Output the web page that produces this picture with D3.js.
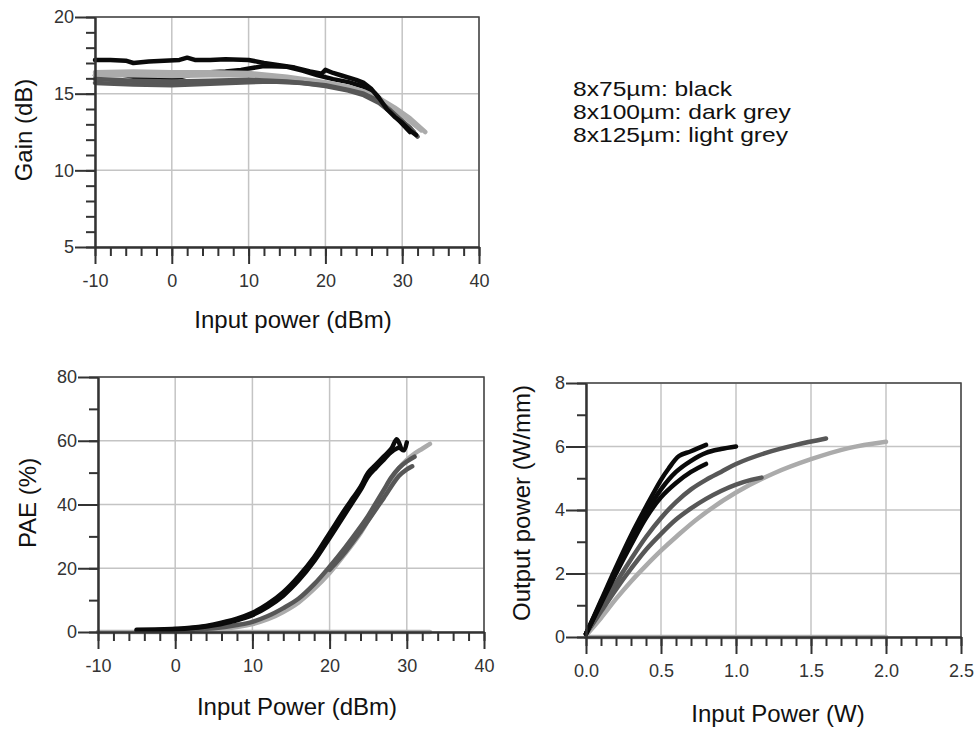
<!DOCTYPE html>
<html>
<head>
<meta charset="utf-8">
<script src="https://cdn.jsdelivr.net/npm/d3@7"></script>
<style>
    body { margin: 0; background: #fff; }
    svg { font-family: Arial, "Liberation Sans", sans-serif; }
    .tick text { font-size: 18px; fill: #333; }
    .grid line { stroke: #c4c4c4; stroke-width: 1.5; }
    .axis path, .axis line { stroke: #333; stroke-width: 2; }
    .frame { fill: none; stroke: #444; stroke-width: 1.5; }
    .title { font-size: 24px; fill: #111; }
    .legend { font-size: 20.5px; fill: #111; }
    .series { fill: none; stroke-width: 4.5; stroke-linejoin: round; stroke-linecap: round; }
</style>
</head>
<body>
<div id="chart"></div>
<script>
// Gain (dB) vs input power (dBm)
const gainBlackA = [[-10,17.2],[-8,17.2],[-6,17.15],[-5,17.0],[-3,17.1],[-1,17.15],[1,17.2],[2,17.35],[3,17.2],[5,17.2],[7,17.25],[10,17.2],[12,17.0],[14,16.85],[16,16.7],[18,16.45],[19.5,16.3],[20,16.55],[21,16.35],[22,16.2],[24,15.9],[25,15.7],[26,15.3],[27,14.7],[28,14.0],[29,13.5],[30,13.1],[31,12.6],[31.8,12.3]];
const gainBlackB = [[-10,16.2],[-7,16.3],[-5,16.1],[-2,16.0],[0,15.95],[3,16.3],[5,16.4],[7,16.45],[9,16.55],[12,16.8],[15,16.75],[17,16.5],[19,16.2],[21,15.95],[23,15.75],[25,15.45],[26.5,15.0],[28,14.2],[29.5,13.3],[31,12.5]];
const gainDarkA = [[-10,15.7],[-5,15.6],[0,15.55],[5,15.65],[10,15.75],[13,15.8],[17,15.7],[20,15.5],[23,15.2],[25,14.9],[27,14.4],[29,13.6],[31,12.8],[32,12.2]];
const gainDarkB = [[-10,15.95],[-5,15.85],[0,15.8],[5,15.85],[10,15.9],[15,15.8],[20,15.55],[23,15.25],[25,15.0],[27,14.5],[28.5,13.9],[30,13.2],[31.5,12.5]];
const gainLightA = [[-10,16.4],[-5,16.45],[0,16.4],[5,16.4],[10,16.35],[15,16.1],[20,15.75],[23,15.45],[25,15.15],[27,14.7],[29,14.1],[31,13.4],[33,12.5]];
const gainLightB = [[-10,16.2],[-5,16.2],[0,16.15],[5,16.2],[10,16.2],[15,16.0],[20,15.65],[23,15.35],[25,15.05],[27,14.6],[29,13.95],[31,13.2],[32.5,12.6]];

// PAE (%) vs input power (dBm)
const paeBlackA = [[-5,0.7],[0,1.0],[3,1.6],[5,2.4],[8,4.2],[10,6],[12,8.8],[14,12.5],[16,17.5],[18,23.5],[20,31],[22,38.5],[23,42],[24,45.5],[25,50],[26,52.5],[27,55],[28,57.5],[28.7,60.5],[29.2,58]];
const paeBlackB = [[-5,0.5],[0,0.8],[3,1.4],[5,2.1],[8,3.7],[10,5.3],[12,7.9],[14,11.4],[16,16.2],[18,22.2],[20,29.5],[22,37],[23,40.8],[24,44.5],[25,48.8],[26,51.5],[27,54],[28,56.5],[29,57.8],[29.6,57],[30,59.5]];
const paeDarkA = [[0,0.5],[5,1.2],[8,2.2],[10,3.2],[12,5],[14,7.5],[16,10.5],[18,15],[20,20.5],[22,26.5],[24,33],[25,36.5],[26,40.5],[27,44.5],[28,48.5],[29,51.5],[30,53.5],[31,55]];
const paeDarkB = [[20,19.5],[22,25],[24,31.5],[25,35],[27,42],[29,49],[30,51],[30.7,52]];
const paeLight = [[0,0.2],[5,0.8],[8,1.6],[10,2.5],[12,4],[14,6.3],[16,9.3],[18,13.5],[20,18.5],[22,24.5],[24,31],[25,35],[26,39],[27,43.5],[28,48],[29,51.5],[30,54],[31,56],[32,57.5],[33,59]];
const paeLightZero = [[-10,0],[33,0]];

// Output power (W/mm) vs input power (W)
const poutBlackA = [[0,0.1],[0.1,1.15],[0.2,2.2],[0.3,3.2],[0.4,4.1],[0.5,4.95],[0.55,5.3],[0.62,5.7],[0.7,5.85],[0.8,6.05]];
const poutBlackB = [[0,0.1],[0.1,1.1],[0.2,2.1],[0.3,3.05],[0.4,3.9],[0.5,4.65],[0.6,5.2],[0.7,5.55],[0.8,5.8],[0.9,5.92],[1.0,6.0]];
const poutBlackC = [[0,0.1],[0.1,1.05],[0.2,2.0],[0.3,2.9],[0.4,3.75],[0.5,4.4],[0.6,4.85],[0.7,5.2],[0.8,5.45]];
const poutDarkA = [[0,0.1],[0.1,0.9],[0.2,1.7],[0.3,2.45],[0.4,3.15],[0.5,3.75],[0.6,4.25],[0.7,4.65],[0.8,4.95],[0.9,5.2],[1.0,5.45],[1.2,5.8],[1.4,6.05],[1.6,6.25]];
const poutDarkB = [[0,0.1],[0.1,0.8],[0.2,1.5],[0.3,2.15],[0.4,2.75],[0.5,3.25],[0.6,3.7],[0.7,4.05],[0.8,4.35],[0.9,4.6],[1.0,4.8],[1.1,4.95],[1.17,5.02]];
const poutLight = [[0,0.05],[0.1,0.6],[0.2,1.2],[0.3,1.75],[0.4,2.25],[0.5,2.72],[0.6,3.15],[0.75,3.75],[1.0,4.55],[1.25,5.15],[1.5,5.6],[1.75,5.95],[2.0,6.15]];
const poutLightZero = [[0,0],[2.0,0]];

const legendLines = ['8x75µm: black', '8x100µm: dark grey', '8x125µm: light grey'];
const colours = {black: '#0a0a0a', dark: '#575757', light: '#ababab'};

let svg = d3.select('#chart').append('svg')
    .attr('width', 977)
    .attr('height', 729);

function drawPanel(p) {
    let width = p.right - p.left;
    let height = p.bottom - p.top;

    let g = svg.append('g')
        .attr('transform', 'translate(' + p.left + ',' + p.top + ')');

    let x = d3.scaleLinear().domain(p.xDomain).range([0, width]);
    let y = d3.scaleLinear().domain(p.yDomain).range([height, 0]);

    // grid lines on the major ticks
    let grid = g.append('g').attr('class', 'grid');
    grid.selectAll('.gx').data(x.ticks(p.xMajor)).enter().append('line')
        .attr('x1', d => x(d)).attr('x2', d => x(d))
        .attr('y1', 0).attr('y2', height);
    grid.selectAll('.gy').data(y.ticks(p.yMajor)).enter().append('line')
        .attr('x1', 0).attr('x2', width)
        .attr('y1', d => y(d)).attr('y2', d => y(d));

    // top and right border
    g.append('path')
        .attr('class', 'frame')
        .attr('d', 'M0,0H' + width + 'V' + height);

    // data
    let line = d3.line()
        .x(d => x(d[0]))
        .y(d => y(d[1]))
        .curve(p.curve || d3.curveLinear);

    g.selectAll('.series').data(p.series).enter().append('path')
        .attr('class', 'series')
        .attr('stroke', d => colours[d.colour])
        .attr('d', d => line(d.values));

    // plain hyphen for negatives, as in the original
    let fmt = p.xFormat || (d => String(d));

    // minor ticks, then major ticks with labels
    g.append('g')
        .attr('class', 'axis')
        .attr('transform', 'translate(0,' + height + ')')
        .call(d3.axisBottom(x).tickValues(x.ticks(p.xMinor)).tickSize(9).tickSizeOuter(0).tickFormat(''));
    g.append('g')
        .attr('class', 'axis')
        .attr('transform', 'translate(0,' + height + ')')
        .call(d3.axisBottom(x).ticks(p.xMajor).tickSize(17).tickSizeOuter(0).tickPadding(10).tickFormat(fmt));
    g.append('g')
        .attr('class', 'axis')
        .call(d3.axisLeft(y).tickValues(y.ticks(p.yMinor)).tickSize(9).tickSizeOuter(0).tickFormat(''));
    g.append('g')
        .attr('class', 'axis')
        .call(d3.axisLeft(y).ticks(p.yMajor).tickSize(20).tickSizeOuter(0).tickPadding(1).tickFormat(d => String(d)));

    // axis titles
    svg.append('text')
        .attr('class', 'title')
        .attr('x', p.xTitlePos[0])
        .attr('y', p.xTitlePos[1])
        .attr('text-anchor', 'middle')
        .text(p.xTitle);
    svg.append('text')
        .attr('class', 'title')
        .attr('transform', 'translate(' + p.yTitlePos[0] + ',' + p.yTitlePos[1] + ') rotate(-90)')
        .attr('text-anchor', 'middle')
        .text(p.yTitle);
}

drawPanel({
    left: 95, right: 479, top: 17, bottom: 247,
    xDomain: [-10, 40], yDomain: [5, 20],
    xMajor: 5, xMinor: 25, yMajor: 3, yMinor: 15,
    xTitle: 'Input power (dBm)', xTitlePos: [293, 328],
    yTitle: 'Gain (dB)', yTitlePos: [32, 130],
    series: [
        {colour: 'black', values: gainBlackB},
        {colour: 'light', values: gainLightA},
        {colour: 'light', values: gainLightB},
        {colour: 'dark', values: gainDarkA},
        {colour: 'dark', values: gainDarkB},
        {colour: 'black', values: gainBlackA}
    ]
});

drawPanel({
    left: 98, right: 484, top: 377, bottom: 632,
    xDomain: [-10, 40], yDomain: [0, 80],
    xMajor: 5, xMinor: 25, yMajor: 4, yMinor: 8,
    xTitle: 'Input Power (dBm)', xTitlePos: [297, 715],
    yTitle: 'PAE (%)', yTitlePos: [36, 503],
    curve: d3.curveCatmullRom.alpha(0.5),
    series: [
        {colour: 'light', values: paeLightZero},
        {colour: 'light', values: paeLight},
        {colour: 'dark', values: paeDarkB},
        {colour: 'dark', values: paeDarkA},
        {colour: 'black', values: paeBlackB},
        {colour: 'black', values: paeBlackA}
    ]
});

drawPanel({
    left: 586, right: 961, top: 383, bottom: 637,
    xDomain: [0, 2.5], yDomain: [0, 8],
    xMajor: 5, xMinor: 25, yMajor: 4, yMinor: 8,
    xFormat: d3.format('.1f'),
    xTitle: 'Input Power (W)', xTitlePos: [778, 722],
    yTitle: 'Output power (W/mm)', yTitlePos: [530, 503],
    curve: d3.curveCatmullRom.alpha(0.5),
    series: [
        {colour: 'light', values: poutLightZero},
        {colour: 'light', values: poutLight},
        {colour: 'dark', values: poutDarkB},
        {colour: 'dark', values: poutDarkA},
        {colour: 'black', values: poutBlackC},
        {colour: 'black', values: poutBlackB},
        {colour: 'black', values: poutBlackA}
    ]
});

// legend text (the original lettering is a little wide, hence the x stretch)
svg.selectAll('.legend').data(legendLines).enter().append('text')
    .attr('class', 'legend')
    .attr('transform', (d, i) => 'translate(573,' + (96 + i * 23) + ') scale(1.2,1)')
    .text(d => d);
</script>
</body>
</html>
